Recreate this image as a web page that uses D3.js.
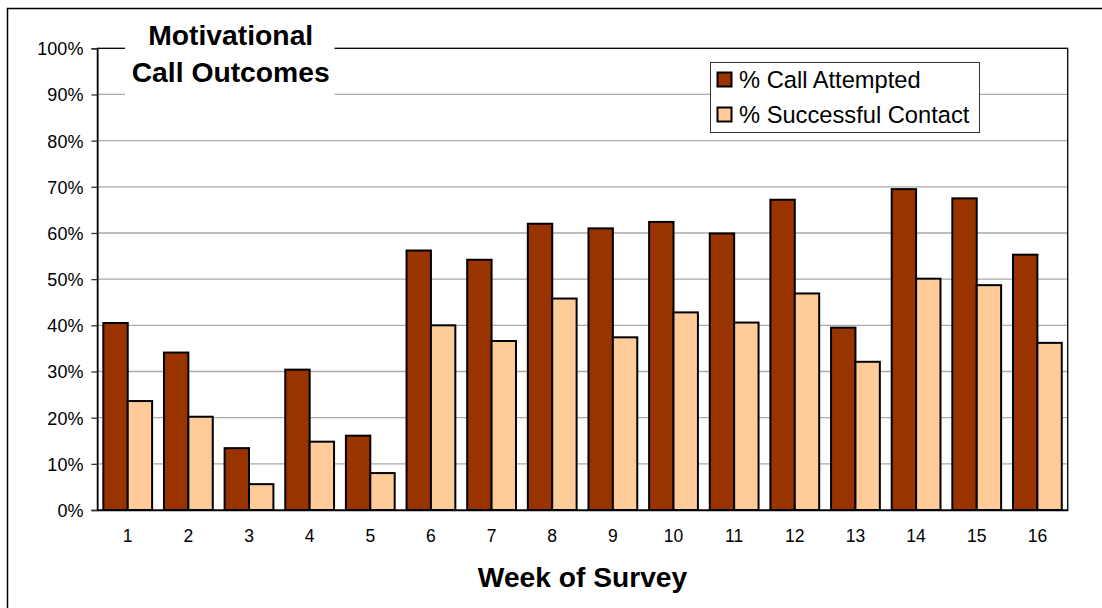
<!DOCTYPE html>
<html>
<head>
<meta charset="utf-8">
<script src="https://cdn.jsdelivr.net/npm/d3@7"></script>
<style>
  html, body { margin: 0; padding: 0; background: #fff; }
  svg { display: block; font-family: "Liberation Sans", Arial, sans-serif; }
</style>
</head>
<body>
<svg id="chart" width="1102" height="608"></svg>
<script>
// Weekly outcomes of motivational calls
const weeks = ["1","2","3","4","5","6","7","8","9","10","11","12","13","14","15","16"];
const callAttempted = [40.5, 34.1, 13.4, 30.4, 16.1, 56.2, 54.2, 62.0, 61.0, 62.4, 59.9, 67.2, 39.5, 69.5, 67.5, 55.3];
const successfulContact = [23.6, 20.2, 5.6, 14.8, 8.0, 40.0, 36.6, 45.8, 37.4, 42.8, 40.6, 46.9, 32.1, 50.1, 48.7, 36.2];
const seriesNames = ["% Call Attempted", "% Successful Contact"];
const seriesColors = ["#993300", "#FFCC99"];
const yTicks = [0, 10, 20, 30, 40, 50, 60, 70, 80, 90, 100];
const titleLines = ["Motivational", "Call Outcomes"];
const xTitle = "Week of Survey";

const svg = d3.select("#chart");
const plot = { left: 97.4, right: 1067.7, top: 48.3, bottom: 510 };

// outer chart frame (runs off the right and bottom edges)
svg.append("rect")
  .attr("x", 7.5).attr("y", 8.5)
  .attr("width", 1300).attr("height", 800)
  .attr("fill", "#fff").attr("stroke", "#000").attr("stroke-width", 1.5);

const x = d3.scaleBand().domain(weeks)
  .range([plot.left, plot.right])
  .paddingInner(0.1955).paddingOuter(0.1955 / 2);
const xs = d3.scaleBand().domain([0, 1]).range([0, x.bandwidth()]);
const y = d3.scaleLinear().domain([0, 100]).range([plot.bottom, plot.top]);

// gridlines
svg.append("g").selectAll("line")
  .data(yTicks.filter(t => t > 0 && t < 100))
  .join("line")
  .attr("x1", plot.left).attr("x2", plot.right)
  .attr("y1", d => y(d)).attr("y2", d => y(d))
  .attr("stroke", "#aaaaaa").attr("stroke-width", 1.3);

// plot frame
svg.append("rect")
  .attr("x", plot.left).attr("y", plot.top)
  .attr("width", plot.right - plot.left).attr("height", plot.bottom - plot.top)
  .attr("fill", "none").attr("stroke", "#000").attr("stroke-width", 1.3);

// bars
const rows = weeks.map((w, i) => ({ week: w, vals: [callAttempted[i], successfulContact[i]] }));
const groups = svg.append("g").selectAll("g")
  .data(rows).join("g")
  .attr("transform", d => `translate(${x(d.week)},0)`);
groups.selectAll("rect")
  .data(d => d.vals.map((v, k) => ({ v, k })))
  .join("rect")
  .attr("x", d => xs(d.k))
  .attr("width", xs.bandwidth())
  .attr("y", d => y(d.v))
  .attr("height", d => y(0) - y(d.v))
  .attr("fill", d => seriesColors[d.k])
  .attr("stroke", "#000").attr("stroke-width", 2);

// y axis
const yAxis = d3.axisLeft(y).tickValues(yTicks).tickFormat(d => d + "%").tickSize(6).tickPadding(8);
const ya = svg.append("g").attr("transform", `translate(${plot.left},0)`).call(yAxis);
ya.select(".domain").attr("stroke", "#000").attr("stroke-width", 1.3);
ya.selectAll(".tick line").attr("stroke", "#333").attr("stroke-width", 1.3);
ya.selectAll(".tick text")
  .attr("font-size", 18).attr("fill", "#000")
  .attr("font-family", "'Liberation Sans', Arial, sans-serif")
  .attr("dy", "0.36em");

// x axis
const xAxis = d3.axisBottom(x).tickSize(0).tickPadding(20);
const xa = svg.append("g").attr("transform", `translate(0,${plot.bottom})`).call(xAxis);
xa.select(".domain").attr("stroke", "#000").attr("stroke-width", 1.3);
xa.selectAll(".tick text")
  .attr("font-size", 17.5).attr("fill", "#000")
  .attr("font-family", "'Liberation Sans', Arial, sans-serif");

// x axis title
svg.append("text")
  .attr("x", 582.5).attr("y", 587)
  .attr("text-anchor", "middle")
  .attr("font-size", 28.2).attr("font-weight", "bold")
  .text(xTitle);

// chart title on a white panel
svg.append("rect")
  .attr("x", 125).attr("y", 14).attr("width", 209.5).attr("height", 86)
  .attr("fill", "#fff");
svg.append("g").selectAll("text")
  .data(titleLines).join("text")
  .attr("x", 230.7)
  .attr("y", (d, i) => 45 + i * 36.7)
  .attr("text-anchor", "middle")
  .attr("font-size", 28.3).attr("font-weight", "bold")
  .text(d => d);

// legend
const lg = svg.append("g").attr("transform", "translate(710,62)");
lg.append("rect")
  .attr("x", 0.5).attr("y", 0.5).attr("width", 269).attr("height", 70)
  .attr("fill", "#fff").attr("stroke", "#333").attr("stroke-width", 1);
const items = lg.selectAll("g.item")
  .data(seriesNames).join("g").attr("class", "item")
  .attr("transform", (d, i) => `translate(0,${i * 35})`);
items.append("rect")
  .attr("x", 7.5).attr("y", 10.5).attr("width", 14).attr("height", 14)
  .attr("fill", (d, i) => seriesColors[i])
  .attr("stroke", "#000").attr("stroke-width", 2);
items.append("text")
  .attr("x", 29).attr("y", 26.3)
  .attr("font-size", 23.7)
  .text(d => d);
</script>
</body>
</html>
